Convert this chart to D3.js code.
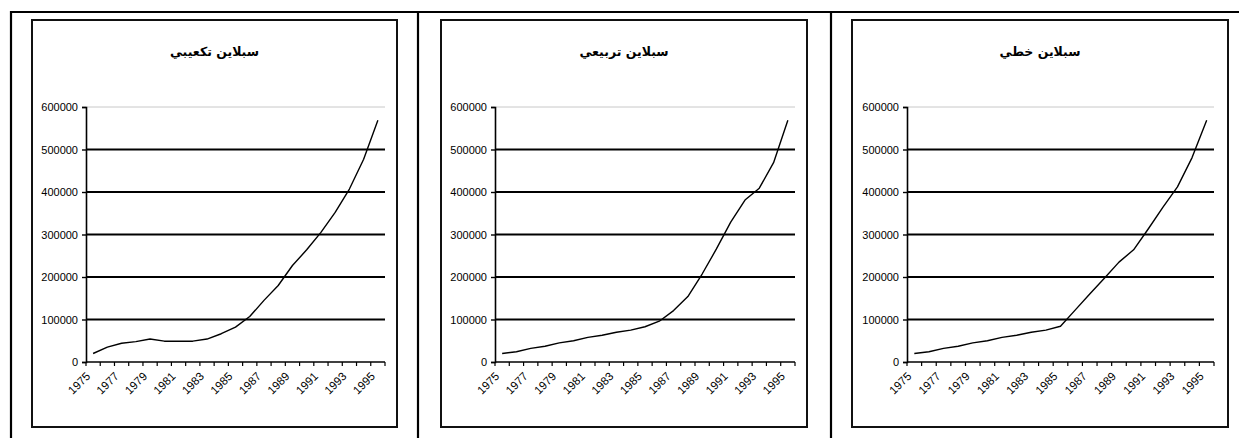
<!DOCTYPE html>
<html>
<head>
<meta charset="utf-8">
<script src="https://cdn.jsdelivr.net/npm/d3@7"></script>
<style>
  html, body { margin: 0; padding: 0; background: #fff; }
  svg { display: block; }
</style>
</head>
<body>
<svg id="chart" width="1239" height="438"></svg>
<script>
// ---- data ----
const years = [1975,1976,1977,1978,1979,1980,1981,1982,1983,1984,1985,1986,1987,1988,1989,1990,1991,1992,1993,1994,1995];
const titles = ["سبلاين تكعيبي", "سبلاين تربيعي", "سبلاين خطي"];
const cubicValues = [20000,35000,44000,48000,54000,49000,49000,49000,54000,66500,82000,107000,145000,180000,227000,264000,305000,352000,407000,477000,569000];
const quadraticValues = [20000,24000,32000,37000,45000,50000,58000,63000,70000,75000,83000,96000,121000,154000,207000,266000,329000,381000,409000,469000,569000];
const linearValues = [20000,24000,32000,37000,45000,50000,58000,63000,70000,75000,84000,122000,160000,197000,235000,264000,313000,364000,412000,481000,569000];
const yTicks = [0,100000,200000,300000,400000,500000,600000];
const yearLabels = [1975,1977,1979,1981,1983,1985,1987,1989,1991,1993,1995];

const seriesList = [cubicValues, quadraticValues, linearValues];

// ---- layout ----
const svg = d3.select("#chart");
const panels = [
  {box:[32,20,397,427], plot:[86,385]},
  {box:[441,20,807,427], plot:[495,795]},
  {box:[852,20,1228,427], plot:[907,1214]}
];
const yTop = 107, yBottom = 362;

// outer table lines
const table = svg.append("g").attr("stroke", "#000").attr("stroke-width", 2.2);
table.append("line").attr("x1", 10).attr("x2", 1239).attr("y1", 12).attr("y2", 12);
[11, 418, 831].forEach(x => table.append("line").attr("x1", x).attr("x2", x).attr("y1", 11).attr("y2", 438));

const y = d3.scaleLinear().domain([0, 600000]).range([yBottom, yTop]);

panels.forEach((p, k) => {
  const g = svg.append("g");
  const [bx0, by0, bx1, by1] = p.box;
  g.append("rect").attr("x", bx0).attr("y", by0).attr("width", bx1 - bx0).attr("height", by1 - by0)
    .attr("fill", "#fff").attr("stroke", "#111").attr("stroke-width", 2);

  g.append("text").attr("x", (bx0 + bx1) / 2).attr("y", 56)
    .attr("text-anchor", "middle").attr("direction", "rtl")
    .attr("font-family", "'DejaVu Sans', 'Noto Sans', sans-serif").attr("font-weight", "bold")
    .attr("font-size", 12.5).text(titles[k]);

  const [px0, px1] = p.plot;
  const x = d3.scaleBand().domain(years).range([px0, px1]).paddingInner(0).paddingOuter(0);

  // gridlines
  yTicks.filter(t => t > 0).forEach(t => {
    g.append("line").attr("x1", px0).attr("x2", px1).attr("y1", y(t)).attr("y2", y(t))
      .attr("stroke", t === 600000 ? "#c8c8c8" : "#000")
      .attr("stroke-width", t === 600000 ? 1 : 2);
  });

  // y axis
  const yAxis = d3.axisLeft(y).tickValues(yTicks).tickSize(4).tickPadding(4).tickFormat(d3.format("d"));
  const ya = g.append("g").attr("transform", `translate(${px0},0)`).call(yAxis);
  ya.select(".domain").attr("stroke", "#000").attr("stroke-width", 1.6);
  ya.selectAll(".tick line").attr("stroke", "#000").attr("stroke-width", 1.4);
  ya.selectAll("text").attr("font-family", "'Liberation Sans', Arial, sans-serif").attr("font-size", 11).attr("fill", "#000");

  // x axis: ticks between categories
  const tickPositions = years.map(yr => x(yr)).concat([px1]);
  const xa = g.append("g");
  xa.append("line").attr("x1", px0).attr("x2", px1).attr("y1", yBottom).attr("y2", yBottom)
    .attr("stroke", "#000").attr("stroke-width", 1.6);
  tickPositions.forEach(tx => {
    xa.append("line").attr("x1", tx).attr("x2", tx).attr("y1", yBottom).attr("y2", yBottom + 4)
      .attr("stroke", "#000").attr("stroke-width", 1.2);
  });
  yearLabels.forEach(yr => {
    const cx = x(yr) + x.bandwidth() / 2 - 5;
    xa.append("text").attr("transform", `translate(${cx},${yBottom + 12}) rotate(-45)`)
      .attr("text-anchor", "end").attr("dy", "0.35em")
      .attr("font-family", "'Liberation Sans', Arial, sans-serif").attr("font-size", 11.5)
      .text(yr);
  });

  // line
  const line = d3.line().x((d, i) => x(years[i]) + x.bandwidth() / 2).y(d => y(d));
  g.append("path").datum(seriesList[k]).attr("d", line)
    .attr("fill", "none").attr("stroke", "#000").attr("stroke-width", 1.4).attr("stroke-linejoin", "round");
});
</script>
</body>
</html>
